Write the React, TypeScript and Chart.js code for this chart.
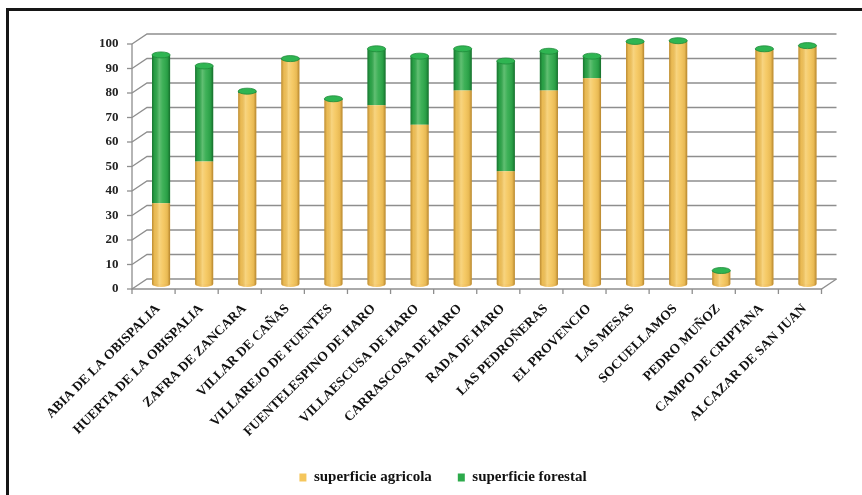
import React, { useEffect, useRef } from "react";
import { Chart, registerables } from "chart.js";

Chart.register(...registerables);

const categories = [
  "ABIA DE LA OBISPALIA",
  "HUERTA DE LA OBISPALIA",
  "ZAFRA DE ZANCARA",
  "VILLAR DE CAÑAS",
  "VILLAREJO DE FUENTES",
  "FUENTELESPINO DE HARO",
  "VILLAESCUSA DE HARO",
  "CARRASCOSA DE HARO",
  "RADA DE HARO",
  "LAS PEDROÑERAS",
  "EL PROVENCIO",
  "LAS MESAS",
  "SOCUELLAMOS",
  "PEDRO MUÑOZ",
  "CAMPO DE CRIPTANA",
  "ALCAZAR DE SAN JUAN",
];
const agricola = [33, 50, 78, 91.5, 75, 73, 65, 79, 46, 79, 84, 98.5, 99, 5, 95.5, 97];
const forestal = [60.5, 39, 0.7, 0.5, 0.6, 23, 28, 17, 45, 16, 9, 0.5, 0.3, 0.5, 0.5, 0.3];
const yTickValues = [0, 10, 20, 30, 40, 50, 60, 70, 80, 90, 100];
const seriesNames = ["superficie agricola", "superficie forestal"];

const FONT = "'Liberation Serif', 'DejaVu Serif', serif";

const depthPlugin = {
  id: "depth3d",
  beforeDatasetsDraw(chart: any) {
    const { ctx, chartArea: a, scales } = chart;
    const y = scales.y;
    const dx = 7.5;
    const dy = 5;
    ctx.save();
    ctx.strokeStyle = "#8e8e8e";
    ctx.lineWidth = 1.3;
    for (const v of yTickValues) {
      const py = y.getPixelForValue(v);
      ctx.beginPath();
      ctx.moveTo(a.left - dx, py + dy);
      ctx.lineTo(a.left + dx, py - dy);
      ctx.lineTo(a.right + dx, py - dy);
      ctx.stroke();
      ctx.beginPath();
      ctx.moveTo(a.left - dx - 5, py + dy);
      ctx.lineTo(a.left - dx, py + dy);
      ctx.stroke();
    }
    const p0 = y.getPixelForValue(0);
    const p100 = y.getPixelForValue(100);
    ctx.beginPath();
    ctx.moveTo(a.left - dx, p100 + dy);
    ctx.lineTo(a.left - dx, p0 + dy);
    ctx.lineTo(a.right - dx, p0 + dy);
    ctx.lineTo(a.right + dx, p0 - dy);
    ctx.stroke();
    const n = categories.length;
    const w = (a.right - a.left) / n;
    for (let i = 0; i <= n; i++) {
      const px = a.left - dx + i * w;
      ctx.beginPath();
      ctx.moveTo(px, p0 + dy);
      ctx.lineTo(px, p0 + dy + 5);
      ctx.stroke();
    }
    ctx.restore();
  },
  afterDatasetsDraw(chart: any) {
    const { ctx } = chart;
    const nd = chart.data.datasets.length;
    ctx.save();
    for (let d = 0; d < nd; d++) {
      const meta = chart.getDatasetMeta(d);
      const tint = d === 0 ? "120,70,0" : "0,50,15";
      meta.data.forEach((el: any) => {
        const { x, y, base, width } = el.getProps(["x", "y", "base", "width"], true);
        const left = x - width / 2;
        const g = ctx.createLinearGradient(left, 0, left + width, 0);
        g.addColorStop(0, `rgba(${tint},0.45)`);
        g.addColorStop(0.15, `rgba(${tint},0.08)`);
        g.addColorStop(0.4, "rgba(255,255,235,0.25)");
        g.addColorStop(0.6, "rgba(255,255,235,0.08)");
        g.addColorStop(0.85, `rgba(${tint},0.1)`);
        g.addColorStop(1, `rgba(${tint},0.5)`);
        if (d === 0) {
          ctx.beginPath();
          ctx.ellipse(x, base, width / 2, 3, 0, 0, Math.PI);
          ctx.fillStyle = "#F2C05A";
          ctx.fill();
          ctx.fillStyle = g;
          ctx.fill();
        }
        ctx.fillStyle = g;
        ctx.fillRect(left, Math.min(y, base), width, Math.abs(base - y));
        if (d === nd - 1) {
          ctx.beginPath();
          ctx.ellipse(x, y, width / 2, 3, 0, 0, Math.PI * 2);
          ctx.fillStyle = "#2FB552";
          ctx.fill();
          ctx.strokeStyle = "#1E8A3A";
          ctx.lineWidth = 0.8;
          ctx.stroke();
        }
      });
    }
    ctx.restore();
  },
};

export default function App() {
  const ref = useRef<HTMLCanvasElement | null>(null);
  useEffect(() => {
    if (!ref.current) return;
    const chart = new Chart(ref.current, {
      type: "bar",
      data: {
        labels: categories,
        datasets: [
          {
            label: seriesNames[0],
            data: agricola,
            backgroundColor: "#F5C65C",
            borderWidth: 0,
          },
          {
            label: seriesNames[1],
            data: forestal,
            backgroundColor: "#2DAA4B",
            borderWidth: 0,
          },
        ],
      },
      options: {
        animation: false,
        responsive: false,
        maintainAspectRatio: false,
        layout: { padding: { left: 57, right: 33, top: 39, bottom: 0 } },
        datasets: {
          bar: { barPercentage: 0.42, categoryPercentage: 1 },
        },
        plugins: {
          tooltip: { enabled: false },
          legend: {
            position: "bottom",
            labels: {
              boxWidth: 7,
              boxHeight: 8,
              padding: 26,
              color: "#111",
              font: { family: FONT, size: 15, weight: "bold" },
            },
          },
        },
        scales: {
          x: {
            stacked: true,
            grid: { display: false, drawTicks: false },
            border: { display: false },
            ticks: {
              autoSkip: false,
              maxRotation: 45,
              minRotation: 45,
              padding: 17,
              labelOffset: -3,
              color: "#111",
              font: { family: FONT, size: 13.5, weight: "bold" },
            },
            afterFit: (s: any) => {
              s.height = 160;
            },
          },
          y: {
            stacked: true,
            min: 0,
            max: 100,
            grid: { display: false, drawTicks: false },
            border: { display: false },
            ticks: {
              stepSize: 10,
              padding: 21,
              labelOffset: 5,
              color: "#222",
              font: { family: FONT, size: 13, weight: "bold" },
            },
            afterFit: (s: any) => {
              s.width = 82.5;
            },
          },
        },
      },
      plugins: [depthPlugin],
    });
    return () => chart.destroy();
  }, []);

  return (
    <div style={{ position: "fixed", left: 0, top: 0, width: 862, height: 495, background: "#fff" }}>
      <canvas ref={ref} width={862} height={495} style={{ position: "absolute", left: 0, top: 0 }} />
      <div
        style={{
          position: "absolute",
          left: 6,
          top: 8,
          width: 860,
          height: 484,
          borderTop: "3px solid #161616",
          borderLeft: "3px solid #161616",
          borderBottom: "1px solid #ddd",
          pointerEvents: "none",
        }}
      />
    </div>
  );
}
